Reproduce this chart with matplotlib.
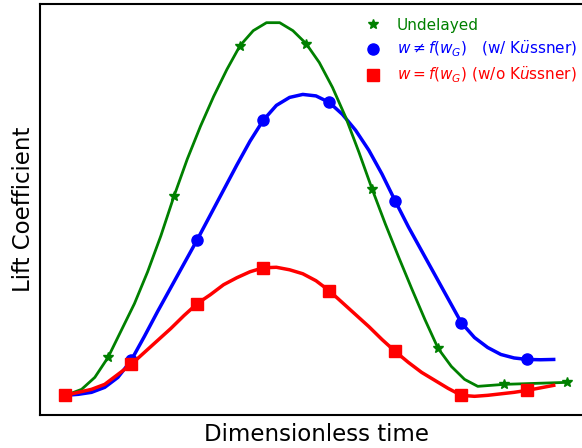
import numpy as np
import matplotlib
matplotlib.use("Agg")
import matplotlib.pyplot as plt
from matplotlib.lines import Line2D

# sampling grids (dimensionless time)
t_gust = np.arange(38) * 0.2
t_undelayed = np.append(0.05 + np.arange(34) * 0.2, 7.6)

cl_undelayed = [0.01, 0.06, 0.18, 0.38, 0.65, 0.92, 1.24, 1.60, 2.00, 2.37,
                2.70, 3.00, 3.27, 3.51, 3.66, 3.74, 3.74, 3.66, 3.53, 3.34,
                3.09, 2.79, 2.44, 2.07, 1.72, 1.39, 1.07, 0.76, 0.47, 0.29,
                0.16, 0.09, 0.10, 0.11, 0.13]
cl_kussner = [0.00, 0.01, 0.03, 0.08, 0.18, 0.35, 0.59, 0.84, 1.08, 1.32,
              1.56, 1.81, 2.06, 2.31, 2.55, 2.76, 2.91, 2.99, 3.02, 3.005,
              2.94, 2.82, 2.66, 2.46, 2.22, 1.95, 1.69, 1.45, 1.21, 0.97,
              0.73, 0.58, 0.48, 0.41, 0.375, 0.36, 0.357, 0.36]
cl_no_kussner = [0.00, 0.03, 0.06, 0.11, 0.21, 0.31, 0.43, 0.55, 0.67, 0.80,
                 0.92, 1.01, 1.11, 1.18, 1.24, 1.28, 1.285, 1.26, 1.22, 1.15,
                 1.05, 0.93, 0.81, 0.69, 0.56, 0.44, 0.33, 0.23, 0.15, 0.07,
                 0.00, -0.01, 0.00, 0.015, 0.03, 0.05, 0.075, 0.10]

labels = ["Undelayed",
          r"$w \neq f(w_G)$   (w/ K$\ddot{u}$ssner)",
          r"$w = f(w_G)$ (w/o K$\ddot{u}$ssner)"]

fig = plt.figure(figsize=(5.82, 4.48), dpi=100)
ax = fig.add_axes([40 / 582, 33 / 448, 552 / 582, 411 / 448])

ax.plot(t_gust, cl_kussner, color="blue", lw=2.5, marker="o", ms=8,
        markevery=5, zorder=2)
ax.plot(t_undelayed, cl_undelayed, color="green", lw=2, marker="*", ms=7,
        markevery=[3, 8, 13, 18, 23, 28, 33, 34], zorder=3)
ax.plot(t_gust, cl_no_kussner, color="red", lw=2.5, marker="s", ms=8.5,
        markevery=5, zorder=4)

ax.set_xticks([])
ax.set_yticks([])
for s in ax.spines.values():
    s.set_linewidth(1.5)
ax.set_xlabel("Dimensionless time", fontsize=16.5, labelpad=5.5)
ax.set_ylabel("Lift Coefficient", fontsize=16.5, labelpad=3.3)

handles = [Line2D([], [], ls="none", marker="*", ms=7, color="green"),
           Line2D([], [], ls="none", marker="o", ms=8, color="blue"),
           Line2D([], [], ls="none", marker="s", ms=8, color="red")]
ax.legend(handles, labels, loc="upper right", frameon=False, fontsize=11,
          labelcolor="linecolor", handlelength=1.5, numpoints=1,
          labelspacing=0.38, bbox_to_anchor=(0.998, 1.0))

fig.savefig("out.png", dpi=100)
